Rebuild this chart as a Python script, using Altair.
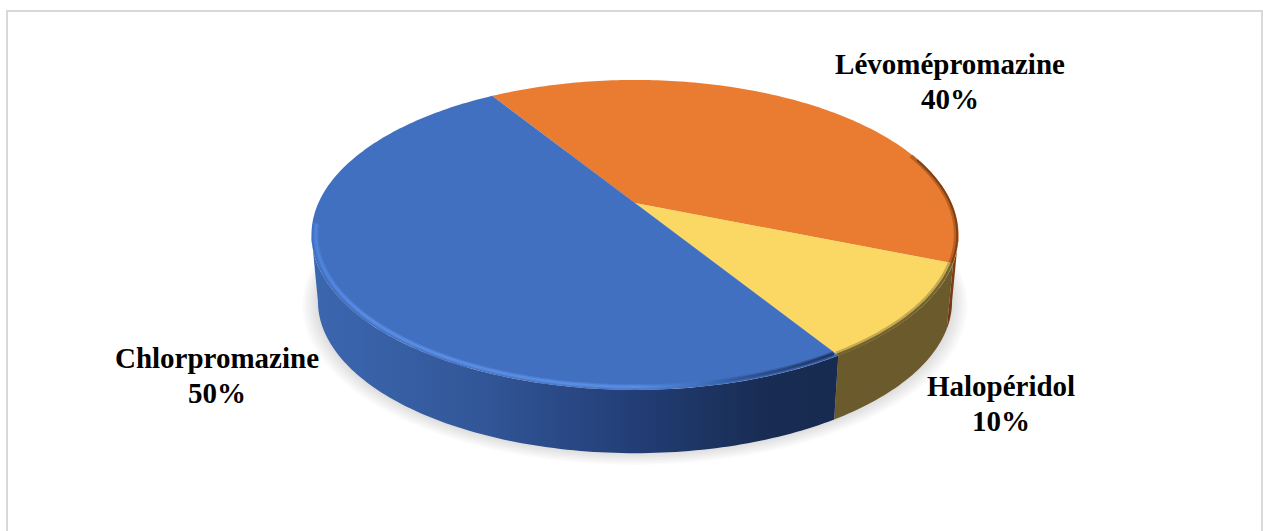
import math
import altair as alt
import pandas as pd

# Slices in clockwise drawing order, starting at the back of the pie
names = ["Lévomépromazine", "Halopéridol", "Chlorpromazine"]
shares = [40, 10, 50]
top_colors = ["#ea7c31", "#fbd864", "#4170c1"]

# Label placement (centre x, middle y of the first line)
label_x = [950, 1001, 217]
label_y = [65, 387, 359]
LINE_GAP = 35

W, H = 1263, 531
START = 328.0          # clockwise from the far side of the disc
CX, APEX_Y = 635.0, 203.0
RADIUS, TILT, PERSP = 316.6, 148.4, 0.206
BASE_Y, BASE_SCALE = 270.0, 0.98
# Angles where the projected disc is widest: the wall outline turns there
WIDEST_R = 360 + math.degrees(math.atan2(math.sqrt(1 - PERSP ** 2), -PERSP))
WIDEST_L = 360 + math.degrees(math.atan2(-math.sqrt(1 - PERSP ** 2), -PERSP)) + 360


def project(theta, r=1.0, scale=1.0, y0=APEX_Y):
    """Perspective projection of a point on a horizontal disc."""
    a = math.radians(theta)
    px, py = r * math.sin(a), r * math.cos(a)
    d = 1 + PERSP * py
    return CX + scale * RADIUS * px / d, y0 - scale * TILT * py / d


def arc(a0, a1, **kw):
    n = max(2, int(abs(a1 - a0)) + 1)
    return [project(a0 + (a1 - a0) * i / (n - 1), **kw) for i in range(n)]


def frame(points):
    return pd.DataFrame(
        [{"x": x, "y": y, "i": i} for i, (x, y) in enumerate(points)]
    )


x_scale = alt.Scale(domain=[0, W], range=[0, W])
y_scale = alt.Scale(domain=[0, H], range=[0, H])
X = alt.X("x:Q", scale=x_scale, axis=None)
Y = alt.Y("y:Q", scale=y_scale, axis=None)


def polygon(points, fill, opacity=1.0):
    return (
        alt.Chart(frame(points))
        .mark_line(fill=fill, strokeWidth=0, interpolate="linear-closed", opacity=opacity)
        .encode(x=X, y=Y, order="i:Q")
    )


def stroke(points, color, width, opacity=1.0):
    return (
        alt.Chart(frame(points))
        .mark_line(stroke=color, strokeWidth=width, opacity=opacity, strokeCap="butt")
        .encode(x=X, y=Y, order="i:Q")
    )


def h_gradient(stops):
    return alt.Gradient(
        gradient="linear", x1=0, x2=1, y1=0, y2=0,
        stops=[alt.GradientStop(offset=o, color=c) for o, c in stops],
    )


# Slice boundaries from the shares
edges = [START]
for s in shares:
    edges.append(edges[-1] + 360 * s / sum(shares))
spans = [(edges[i], edges[i + 1]) for i in range(len(shares))]
ora, yel, blu = spans

layers = []

# Frame of the chart area
layers.append(
    alt.Chart(pd.DataFrame({"k": [0]}))
    .mark_rect(fill="white", stroke="#d9d9d9", strokeWidth=2)
    .encode(x=alt.value(7), x2=alt.value(1262), y=alt.value(11), y2=alt.value(600))
)

# Soft drop shadow under the disc
for k in range(9):
    s = BASE_SCALE + 0.006 * k
    layers.append(
        polygon(arc(0, 360, scale=s, y0=BASE_Y + 0.35 * k), "#000000", opacity=0.014)
    )

# Side walls: only the front-facing stretch of each slice
wall_spans = [(WIDEST_R, ora[1]), yel, (blu[0], WIDEST_L)]
wall_fills = [
    h_gradient([(0, "#6e3410"), (1, "#8a4516")]),
    "#6b5a2b",
    h_gradient([(0, "#3b67b0"), (0.3, "#33589a"), (0.6, "#233f78"), (0.85, "#192d54"), (1, "#172a50")]),
]
for (a0, a1), fill in zip(wall_spans, wall_fills):
    pts = arc(a0, a1) + arc(a1, a0, scale=BASE_SCALE, y0=BASE_Y)
    layers.append(polygon(pts, fill))

# Top faces
for (a0, a1), color in zip(spans, top_colors):
    layers.append(polygon([project(a0, r=0)] + arc(a0, a1), color))

# Bevel along the front rim of each slice (angles continue past a full turn)
layers.append(stroke(arc(430, ora[1], r=0.992), "#8f4a1a", 4, 0.55))
layers.append(stroke(arc(432, ora[1], r=0.996), "#7a3d14", 2, 0.9))
layers.append(stroke(arc(yel[0], yel[1], r=0.992), "#8d7a3c", 5, 0.5))
layers.append(stroke(arc(yel[0], yel[1], r=0.996), "#6b5a2b", 2.5, 0.9))
blue_rim = h_gradient([(0, "#4f83dc"), (0.1, "#5a8de4"), (0.62, "#5a8de4"), (0.74, "#4170c1"), (0.82, "#2f5596"), (1, "#1c3159")])
layers.append(stroke(arc(blu[0] + 0.3, WIDEST_L + 4, r=0.987), blue_rim, 5, 0.45))
layers.append(stroke(arc(blu[0] + 0.3, WIDEST_L + 4, r=0.987), blue_rim, 2.5, 0.9))

# Labels
labels = pd.DataFrame({
    "name": names,
    "pct": [f"{s}%" for s in shares],
    "lx": label_x,
    "ly": label_y,
    "ly2": [y + LINE_GAP for y in label_y],
})
text_style = dict(font="Liberation Serif", fontWeight="bold", fontSize=29, color="#000000", align="center", baseline="middle")
layers.append(alt.Chart(labels).mark_text(**text_style).encode(x=alt.X("lx:Q", scale=x_scale, axis=None), y=alt.Y("ly:Q", scale=y_scale, axis=None), text="name:N"))
layers.append(alt.Chart(labels).mark_text(**text_style).encode(x=alt.X("lx:Q", scale=x_scale, axis=None), y=alt.Y("ly2:Q", scale=y_scale, axis=None), text="pct:N"))

chart = (
    alt.layer(*layers)
    .properties(width=W, height=H, padding=0, autosize=alt.AutoSizeParams(type="none"))
    .configure_view(stroke=None)
)

chart.save("out.html", embed_options={"renderer": "svg", "actions": False})
